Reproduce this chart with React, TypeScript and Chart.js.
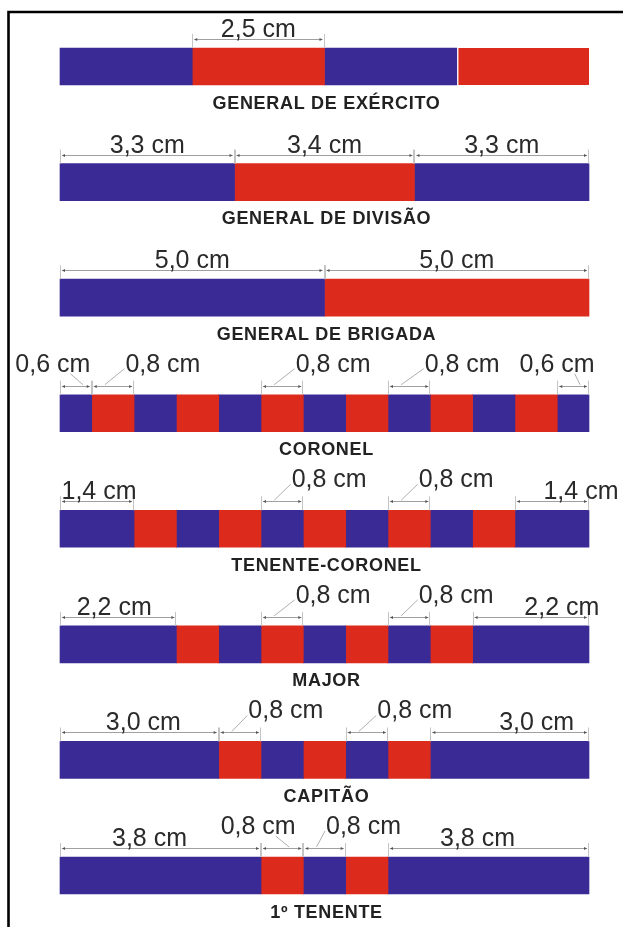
import { useEffect, useRef } from 'react';
import { Chart, registerables } from 'chart.js';

Chart.register(...registerables);

// ---- data ----
const ranks = [
  'GENERAL DE EXÉRCITO',
  'GENERAL DE DIVISÃO',
  'GENERAL DE BRIGADA',
  'CORONEL',
  'TENENTE-CORONEL',
  'MAJOR',
  'CAPITÃO',
  '1º TENENTE',
];

// stripe widths in cm, left to right (blue first, alternating with red)
const genExercito = [2.5, 2.5, 2.5, 2.5];
const genDivisao = [3.3, 3.4, 3.3];
const genBrigada = [5.0, 5.0];
const coronel = [0.6, 0.8, 0.8, 0.8, 0.8, 0.8, 0.8, 0.8, 0.8, 0.8, 0.8, 0.8, 0.6];
const tenenteCoronel = [1.4, 0.8, 0.8, 0.8, 0.8, 0.8, 0.8, 0.8, 0.8, 0.8, 1.4];
const major = [2.2, 0.8, 0.8, 0.8, 0.8, 0.8, 0.8, 0.8, 2.2];
const capitao = [3.0, 0.8, 0.8, 0.8, 0.8, 0.8, 3.0];
const primeiroTenente = [3.8, 0.8, 0.8, 0.8, 3.8];

const rows = [genExercito, genDivisao, genBrigada, coronel, tenenteCoronel, major, capitao, primeiroTenente];

// which stripes carry a dimension label (indices into each row)
const markedStripes = [
  [1],
  [0, 1, 2],
  [0, 1],
  [0, 1, 5, 8, 12],
  [0, 4, 7, 10],
  [0, 3, 6, 8],
  [0, 1, 4, 6],
  [0, 1, 2, 4],
];

// ---- style / layout of the labels (pixel offsets of the text from stripe centre) ----
const labelOffsetX = [
  [0],
  [0, 0, 0],
  [0, 0],
  [-23, 50, 51, 53, -16],
  [2, 47, 47, 29],
  [-4, 51, 47, 31],
  [4, 46, 48, 27],
  [-11, -24, 39, -11],
];
const labelLeader = [
  [false],
  [false, false, false],
  [false, false],
  [true, true, true, true, true],
  [false, true, true, false],
  [false, true, true, false],
  [false, true, true, false],
  [false, true, true, false],
];

const BLUE = '#3a2a95';
const RED = '#dc2b1d';
const FONT = "'Liberation Sans', Arial, sans-serif";

const maxStripes = Math.max(...rows.map((r) => r.length));

const fmt = (v: number) => `${v.toFixed(1).replace('.', ',')} cm`;

const annotate = {
  id: 'annotate',
  beforeDraw(chart: any) {
    const { ctx, width, height } = chart;
    ctx.save();
    ctx.fillStyle = '#ffffff';
    ctx.fillRect(0, 0, width, height);
    ctx.strokeStyle = '#000000';
    ctx.lineWidth = 2.6;
    ctx.beginPath();
    ctx.moveTo(8.5, height + 2);
    ctx.lineTo(8.5, 12);
    ctx.lineTo(width + 2, 12);
    ctx.stroke();
    ctx.restore();
  },
  afterDatasetsDraw(chart: any) {
    const ctx = chart.ctx;
    const xs = chart.scales.x;
    const area = chart.chartArea;
    ctx.save();
    rows.forEach((segs, r) => {
      const el = chart.getDatasetMeta(0).data[r];
      const { y, height } = el.getProps(['y', 'height'], true);
      const top = y - height / 2;
      const bottom = y + height / 2;

      // rank name
      ctx.font = `bold 18px ${FONT}`;
      (ctx as any).letterSpacing = '0.7px';
      ctx.fillStyle = '#222222';
      ctx.textAlign = 'center';
      ctx.textBaseline = 'alphabetic';
      ctx.fillText(ranks[r], (area.left + area.right) / 2 + 2, bottom + 23.5);
      (ctx as any).letterSpacing = '0px';

      const starts: number[] = [];
      let acc = 0;
      segs.forEach((v) => {
        starts.push(acc);
        acc += v;
      });

      markedStripes[r].forEach((s, k) => {
        const x0 = xs.getPixelForValue(starts[s]);
        const x1 = xs.getPixelForValue(starts[s] + segs[s]);
        const cx = (x0 + x1) / 2;
        const dimY = top - 9;

        // extension ticks
        ctx.strokeStyle = '#c4c4c4';
        ctx.lineWidth = 1;
        ctx.beginPath();
        ctx.moveTo(Math.round(x0) + 0.5, dimY - 5);
        ctx.lineTo(Math.round(x0) + 0.5, top);
        ctx.moveTo(Math.round(x1) - 0.5, dimY - 5);
        ctx.lineTo(Math.round(x1) - 0.5, top);
        ctx.stroke();

        // dimension line
        ctx.strokeStyle = '#a0a0a0';
        ctx.beginPath();
        ctx.moveTo(x0 + 2, Math.round(dimY) + 0.5);
        ctx.lineTo(x1 - 2, Math.round(dimY) + 0.5);
        ctx.stroke();

        // arrow heads
        ctx.fillStyle = '#555555';
        const ay = Math.round(dimY) + 0.5;
        ctx.beginPath();
        ctx.moveTo(x0 + 2, ay);
        ctx.lineTo(x0 + 5, ay - 1.6);
        ctx.lineTo(x0 + 5, ay + 1.6);
        ctx.closePath();
        ctx.fill();
        ctx.beginPath();
        ctx.moveTo(x1 - 2, ay);
        ctx.lineTo(x1 - 5, ay - 1.6);
        ctx.lineTo(x1 - 5, ay + 1.6);
        ctx.closePath();
        ctx.fill();

        // label
        const text = fmt(segs[s]);
        const lead = labelLeader[r][k];
        const tx = cx + labelOffsetX[r][k];
        const baseline = lead ? top - 23 : top - 11;
        ctx.font = `25px ${FONT}`;
        ctx.fillStyle = '#2a2a2a';
        ctx.textAlign = 'center';
        ctx.fillText(text, tx, baseline);

        if (lead) {
          const w = ctx.measureText(text).width;
          ctx.strokeStyle = '#b0b0b0';
          ctx.lineWidth = 1;
          ctx.beginPath();
          if (labelOffsetX[r][k] > 0) {
            ctx.moveTo(tx - w / 2 - 1, baseline - 3);
            ctx.lineTo(cx - 8, dimY - 1);
          } else {
            ctx.moveTo(tx + w / 2 - 20, baseline + 2);
            ctx.lineTo(cx + 7, dimY - 1);
          }
          ctx.stroke();
        }
      });
    });
    ctx.restore();
  },
};

export default function App() {
  const ref = useRef<HTMLCanvasElement | null>(null);

  useEffect(() => {
    if (!ref.current) return;
    const datasets = Array.from({ length: maxStripes }, (_, i) => ({
      label: `faixa ${i + 1}`,
      data: rows.map((r) => (i < r.length ? r[i] : null)),
      backgroundColor: i % 2 === 0 ? BLUE : RED,
      borderColor: '#ffffff',
      borderWidth: (c: any) => (c.dataIndex === 0 && i === 3 ? { left: 2, right: 0, top: 0, bottom: 0 } : 0),
      borderSkipped: false as const,
      barThickness: 37,
      clip: false as any,
    }));
    const chart = new Chart(ref.current, {
      type: 'bar',
      data: { labels: ranks, datasets: datasets as any },
      options: {
        indexAxis: 'y',
        responsive: true,
        maintainAspectRatio: false,
        animation: false,
        layout: { padding: { left: 60, right: 34, top: 66.5, bottom: 51.5 } },
        scales: {
          x: { stacked: true, min: 0, max: 10, display: false },
          y: { stacked: true, display: false, offset: false },
        },
        plugins: { legend: { display: false }, tooltip: { enabled: false } },
      },
      plugins: [annotate],
    });
    return () => chart.destroy();
  }, []);

  return (
    <div style={{ position: 'fixed', left: 0, top: 0, width: 623, height: 927, background: '#fff' }}>
      <canvas ref={ref} />
    </div>
  );
}
